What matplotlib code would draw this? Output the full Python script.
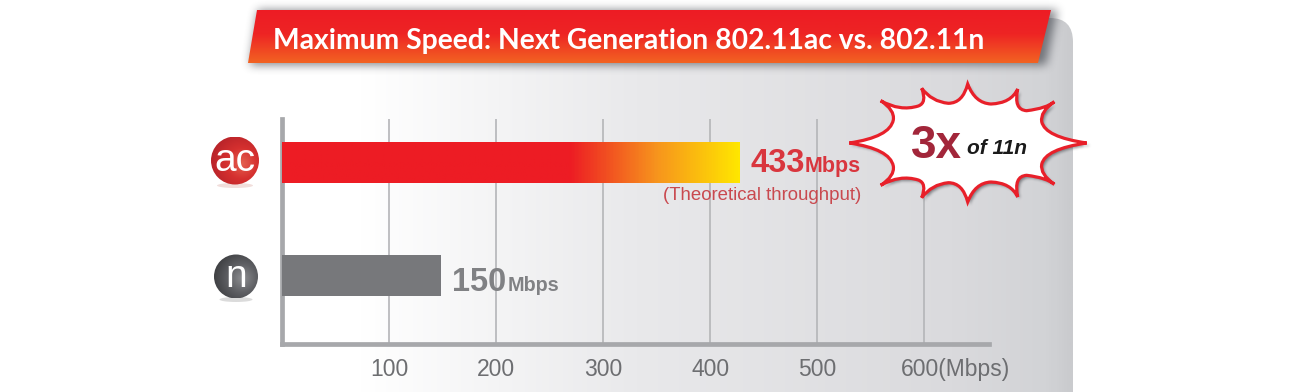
import numpy as np
import matplotlib
matplotlib.use("Agg")
from matplotlib import pyplot as plt
from matplotlib.colors import LinearSegmentedColormap
from matplotlib.patches import Circle, Ellipse, PathPatch, Polygon
from matplotlib.path import Path
from matplotlib.transforms import ScaledTranslation

categories = ["ac", "n"]
# bar lengths as drawn against the axis; the printed labels say 433 and 150
bar_lengths = [428, 148]
speed_labels = ["433", "150"]
ticks = [100, 200, 300, 400, 500, 600]
tick_labels = ["100", "200", "300", "400", "500", "600(Mbps)"]

W, H = 1300, 392
plt.rcParams["font.family"] = ["Liberation Sans", "DejaVu Sans"]
fig = plt.figure(figsize=(W / 100, H / 100), dpi=100)


def pixel_axes(name, z):
    # full figure axes in pixels, origin top left like the picture
    a = fig.add_axes([0, 0, 1, 1], label=name, zorder=z)
    a.set_xlim(0, W)
    a.set_ylim(H, 0)
    a.axis("off")
    a.patch.set_alpha(0)
    return a


def soft_shadow(a, path, colour, strength, radius, z):
    xx, yy = np.meshgrid(np.arange(W) + 0.5, np.arange(H) + 0.5)
    pts = np.column_stack([xx.ravel(), yy.ravel()])
    mask = path.contains_points(pts).reshape(H, W).astype(float)
    kernel = np.ones(2 * radius + 1) / (2 * radius + 1)
    for _ in range(3):
        mask = np.apply_along_axis(lambda r: np.convolve(r, kernel, mode="same"), 0, mask)
        mask = np.apply_along_axis(lambda r: np.convolve(r, kernel, mode="same"), 1, mask)
    rgba = np.zeros((H, W, 4))
    rgba[..., :3] = matplotlib.colors.to_rgb(colour)
    rgba[..., 3] = mask * strength
    a.imshow(rgba, extent=[0, W, H, 0], aspect="auto", zorder=z)
    a.set_xlim(0, W)
    a.set_ylim(H, 0)


bg = pixel_axes("bg", 0)
panel_cmap = LinearSegmentedColormap.from_list(
    "panel", [(0, "#ffffff"), (0.1, "#ffffff"), (0.45, "#e9e9eb"), (0.85, "#dadadd"), (0.97, "#d2d3d6"), (1, "#cacbce")])
panel_img = bg.imshow(np.linspace(0, 1, 300).reshape(1, -1), cmap=panel_cmap, aspect="auto",
                      extent=[280, 1073, H, 18], zorder=1)
panel_shape = Path(
    [(280, 392), (280, 18), (1050, 18), (1073, 18), (1073, 42), (1073, 392), (280, 392)],
    [Path.MOVETO, Path.LINETO, Path.LINETO, Path.CURVE3, Path.CURVE3, Path.LINETO, Path.CLOSEPOLY])
panel_img.set_clip_path(panel_shape, bg.transData)

# banner with a soft shadow
soft_shadow(bg, Path([(258, 10), (1057, 10), (1046, 65), (250, 65), (258, 10)]), "#30343c", 0.6, 4, 2)
banner_cmap = LinearSegmentedColormap.from_list(
    "banner", [(0, "#ed1c24"), (0.45, "#ee2424"), (1, "#f26322")])
banner_img = bg.imshow(np.linspace(0, 1, 100).reshape(-1, 1), cmap=banner_cmap, aspect="auto",
                       extent=[240, 1060, 63, 10], origin="upper", zorder=3)
banner_img.set_clip_path(Polygon([(257, 10), (1051, 10), (1038, 63), (248, 63)], transform=bg.transData))
bg.set_xlim(0, W)
bg.set_ylim(H, 0)
bg.text(273, 48.5, "Maximum Speed: Next Generation 802.11ac vs. 802.11n", color="white",
        family=["Lato", "DejaVu Sans"], weight="bold", fontsize=20.35, zorder=4)

# chart axes, lined up on the reference pixels
ax = fig.add_axes([282.3 / W, 1 - 344 / H, (988.5 - 282.3) / W, (344 - 119) / H], zorder=1)
ax.patch.set_alpha(0)
y_rows = [162.2, 276]

for t in ticks:
    ax.axvline(t, color="#b4b5b8", lw=1.2, zorder=1)
for side in ["top", "right"]:
    ax.spines[side].set_visible(False)
for side in ["left", "bottom"]:
    ax.spines[side].set_color("#a7a8ab")
    ax.spines[side].set_linewidth(3.4)
ax.set_yticks([])
ax.set_xticks(ticks)
ax.set_xticklabels(tick_labels, color="#6d6e71", fontsize=16.5)
ax.tick_params(axis="x", length=0, pad=10)
# the last label starts under its tick rather than centring on it
last = ax.get_xticklabels()[-1]
last.set_ha("left")
last.set_transform(last.get_transform() + ScaledTranslation(-23 / 100, 0, fig.dpi_scale_trans))

ax.barh(y_rows, bar_lengths, height=41, color=["#ed1c24", "#77787b"], zorder=3)
bar_cmap = LinearSegmentedColormap.from_list(
    "bar", [(0, "#ed1c24"), (0.63, "#ed1c24"), (0.82, "#f7941d"), (1, "#ffe600")])
ax.imshow(np.linspace(0, 1, 400).reshape(1, -1), cmap=bar_cmap, aspect="auto",
          extent=[0, bar_lengths[0], y_rows[0] + 20.5, y_rows[0] - 20.5], zorder=4)
ax.set_xlim(0, 660)
ax.set_ylim(344, 119)

# value labels
ax.text(438, 172, speed_labels[0], color="#d9363e", weight="bold", fontsize=23.5, zorder=5)
ax.text(488, 172, "Mbps", color="#d9363e", weight="bold", fontsize=15.5, zorder=5)
ax.text(159, 291, speed_labels[1], color="#808184", weight="bold", fontsize=23.5, zorder=5)
ax.text(211, 291, "Mbps", color="#808184", weight="bold", fontsize=14.2, zorder=5)
ax.text(356, 200, "(Theoretical throughput)", color="#c9494f", fontsize=13.4, zorder=5)

top = pixel_axes("top", 2)


def badge(cx, cy, r, rim, mid, light, glow, label, size, baseline):
    top.add_patch(Ellipse((cx, cy + r + 1), r * 1.5, 5, fc=glow, ec="none", alpha=0.6, zorder=1))
    n = 160
    xx, yy = np.meshgrid(np.linspace(-1, 1, n), np.linspace(-1, 1, n))
    d = np.hypot(xx - 0.3, yy - 0.1) / 1.3
    cmap = LinearSegmentedColormap.from_list(label + "ball", [light, mid, rim])
    img = top.imshow(d, cmap=cmap, vmin=0, vmax=1, extent=[cx - r, cx + r, cy + r, cy - r],
                     aspect="auto", origin="upper", zorder=2)
    img.set_clip_path(Circle((cx, cy), r, transform=top.transData))
    top.text(cx, baseline, label, color="white", ha="center", va="baseline", fontsize=size, zorder=3)
    top.set_xlim(0, W)
    top.set_ylim(H, 0)


badge(235, 160.5, 24, "#b9242a", "#d5302f", "#e4604f", "#e8c8c4", categories[0], 28, 171)
badge(236, 276.5, 22, "#3f4043", "#5f6064", "#8c8d90", "#c4c4c4", categories[1], 28, 287)

# starburst callout: top half as tip, control, valley, control, mirrored for the bottom half
tips = [(849.3, 143), (880.7, 100.7), (921.7, 88.3), (967.7, 84), (1017.7, 89), (1054.3, 101.7), (1086.7, 143)]
valleys = [(893.3, 120), (918.3, 106), (948.3, 103.3), (991, 104), (1026.7, 110.7), (1041.7, 121.7)]
ctrl_in = [(890, 137), (900, 111.7), (931.7, 101.7), (975, 103.3), (1013.3, 110), (1040, 111.7)]
ctrl_out = [(895, 110), (927.3, 102.7), (962.7, 103.3), (1011, 103.3), (1046.7, 108.3), (1045, 137)]


def mirror(p):
    return (p[0], 286 - p[1])


verts, codes = [tips[0]], [Path.MOVETO]
for i in range(6):
    verts += [ctrl_in[i], valleys[i], ctrl_out[i], tips[i + 1]]
    codes += [Path.CURVE3] * 4
for i in range(5, -1, -1):
    verts += [mirror(ctrl_out[i]), mirror(valleys[i]), mirror(ctrl_in[i]), mirror(tips[i])]
    codes += [Path.CURVE3] * 4
burst = Path(verts, codes)
soft_shadow(top, Path(burst.vertices + [2.5, 2.5], burst.codes), "#33363c", 0.55, 1, 4)
top.add_patch(PathPatch(burst, fc="white", ec="#e8202a", lw=2.3, joinstyle="miter", zorder=5))
top.text(911, 158, "3x", color="#a2263a", weight="bold", fontsize=33, zorder=6)
top.text(967, 154, "of 11n", color="#1a1a1a", weight="bold", style="italic", fontsize=15, zorder=6)

fig.savefig("out.png", dpi=100)
